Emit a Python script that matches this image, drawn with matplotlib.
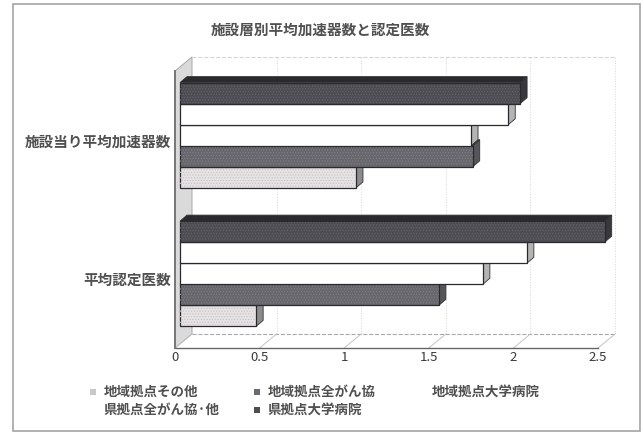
import matplotlib
matplotlib.use("Agg")
import matplotlib.pyplot as plt
from matplotlib.patches import Polygon, Rectangle
from matplotlib.transforms import Affine2D

plt.rcParams['font.family'] = ['Noto Sans CJK JP', 'DejaVu Sans']
plt.rcParams['hatch.linewidth'] = 0.5

TITLE = "施設層別平均加速器数と認定医数"
categories = ["平均認定医数", "施設当り平均加速器数"]
series_names = ["地域拠点その他", "地域拠点全がん協", "地域拠点大学病院",
                "県拠点全がん協·他", "県拠点大学病院"]
other_regional = [0.45, 1.04]
regional_assoc = [1.53, 1.73]
regional_univ = [1.79, 1.72]
pref_assoc = [2.05, 1.94]
pref_univ = [2.51, 2.01]
all_series = [other_regional, regional_assoc, regional_univ, pref_assoc, pref_univ]
x_ticks = [0, 0.5, 1, 1.5, 2, 2.5]
x_tick_labels = ["0", "0.5", "1", "1.5", "2", "2.5"]

# front, top and side shades per series, plus the speckle drawn over the front
face_colors = ["#e6e1e3", "#66666c", "#ffffff", "#ffffff", "#4c4c52"]
top_colors = ["#bdbdbd", "#3c3c40", "#d8d8d8", "#d8d8d8", "#2a2a2e"]
side_colors = ["#8c8c8c", "#55555a", "#b4b4b4", "#b4b4b4", "#37373c"]
speckle_colors = ["#c9c4c6", "#808086", None, None, "#66666c"]

W, H = 644, 436
BAR_H = 0.152
DEPTH = (17, 14)       # wall depth in pixels
BAR_NEAR = (5, 5)      # bar front plane behind the axis plane
BAR_FAR = (12, 11)     # bar back plane
TEXT_COLOR = "#505050"


def shifted(ax, dx, dy):
    # data coordinates pushed back along the oblique depth direction
    return ax.transData + Affine2D().translate(dx, dy)


fig = plt.figure(figsize=(W / 100, H / 100), dpi=100)
fig.patch.set_facecolor("white")

# outer chart frame
fig.add_artist(Rectangle((13 / W, 1 - 431 / H), 627 / W, 427 / H, transform=fig.transFigure,
                         fill=False, edgecolor="#a4a4a4", linewidth=1.2))

ax = fig.add_axes([175 / W, 1 - 348 / H, 423 / W, 277 / H])
ax.set_xlim(0, 2.5)
ax.set_ylim(0, 2)
for spine in ax.spines.values():
    spine.set_visible(False)
ax.patch.set_visible(False)

# back wall grid, top edge and floor
back = shifted(ax, *DEPTH)
ax.vlines(x_ticks[1:], 0, 2, colors="#d6d6d6", linewidth=0.7, linestyles=":", transform=back, clip_on=False)
ax.hlines([0], 0, 2.5, colors="#a8a8a8", linewidth=0.8, linestyles="--", transform=back, clip_on=False)
ax.hlines([2], 0, 2.5, colors="#d6d6d6", linewidth=0.8, linestyles="--", transform=back, clip_on=False)
for t in x_ticks:
    x0, y0 = ax.transData.transform((t, 0))
    ax.plot([x0, x0 + DEPTH[0]], [y0, y0 + DEPTH[1]], color="#c4c4c4", linewidth=0.7,
            transform=None, clip_on=False)

# left wall
x0, y0 = ax.transData.transform((0, 0))
x1, y1 = ax.transData.transform((0, 2))
ax.add_patch(Polygon([(x0, y0), (x0 + DEPTH[0], y0 + DEPTH[1]), (x1 + DEPTH[0], y1 + DEPTH[1]), (x1, y1)],
                     closed=True, transform=None, facecolor="#dadada", edgecolor="#a8a8a8",
                     linewidth=0.7, clip_on=False))

# axis line
ax.plot([0, 2.5], [0, 0], color="#666666", linewidth=1.0, clip_on=False)
ax.plot([0, 0], [0, 2], color="#777777", linewidth=1.4, clip_on=False)

# bars, bottom of each group first so upper bars overlap the lower ones' top faces
near = shifted(ax, *BAR_NEAR)
nx, ny = BAR_NEAR
fx, fy = BAR_FAR
for cat_idx in range(len(categories)):
    center = cat_idx + 0.5
    for s_idx, values in enumerate(all_series):
        value = values[cat_idx]
        y = center + (s_idx - 2) * BAR_H
        z = 3 + s_idx * 0.1
        px, py = ax.transData.transform((value, y - BAR_H / 2))
        qx, qy = ax.transData.transform((value, y + BAR_H / 2))
        sx, sy = ax.transData.transform((0, y + BAR_H / 2))
        # side face
        ax.add_patch(Polygon([(px + nx, py + ny), (px + fx, py + fy), (qx + fx, qy + fy), (qx + nx, qy + ny)],
                             closed=True, transform=None, facecolor=side_colors[s_idx],
                             edgecolor="#333333", linewidth=0.6, clip_on=False, zorder=z))
        # top face
        ax.add_patch(Polygon([(sx + nx, sy + ny), (sx + fx, sy + fy), (qx + fx, qy + fy), (qx + nx, qy + ny)],
                             closed=True, transform=None, facecolor=top_colors[s_idx],
                             edgecolor="#333333", linewidth=0.6, clip_on=False, zorder=z))
        ax.barh(y, value, height=BAR_H, color=face_colors[s_idx], edgecolor="#2a2a2e", linewidth=0.9,
                transform=near, clip_on=False, zorder=z + 0.02)
        if speckle_colors[s_idx]:
            ax.barh(y, value, height=BAR_H * 0.9, fill=False, edgecolor=speckle_colors[s_idx], linewidth=0,
                    hatch="......", transform=near, clip_on=False, zorder=z + 0.03)

ax.set_xticks(x_ticks)
ax.set_xticklabels(x_tick_labels, fontsize=9.5, color="#3a3a3a")
ax.set_yticks([0.5, 1.5])
ax.set_yticklabels(categories, fontsize=10.5, color=TEXT_COLOR, fontweight="bold")
ax.tick_params(axis="x", length=0, pad=2)
ax.tick_params(axis="y", length=0, pad=3)

fig.text(320 / W, 1 - 29.5 / H, TITLE, ha="center", va="center", fontsize=10.5, color=TEXT_COLOR,
         fontweight="bold")

# legend, laid out by hand in two rows
legend_items = [(93, 392, 0), (93, 410, 3), (257, 392, 1), (257, 410, 4), (421, 392, 2)]
legend_swatch = ["#c8c8c8", "#6a6a6e", "#ffffff", "#ffffff", "#4c4c52"]
for lx, ly, idx in legend_items:
    fig.add_artist(Rectangle(((lx - 3) / W, 1 - (ly + 3) / H), 6 / W, 6 / H, transform=fig.transFigure,
                             facecolor=legend_swatch[idx], edgecolor="none"))
    fig.text((lx + 11) / W, 1 - ly / H, series_names[idx], ha="left", va="center",
             fontsize=9.7, color=TEXT_COLOR, fontweight="bold")

fig.savefig("out.png", dpi=100)
